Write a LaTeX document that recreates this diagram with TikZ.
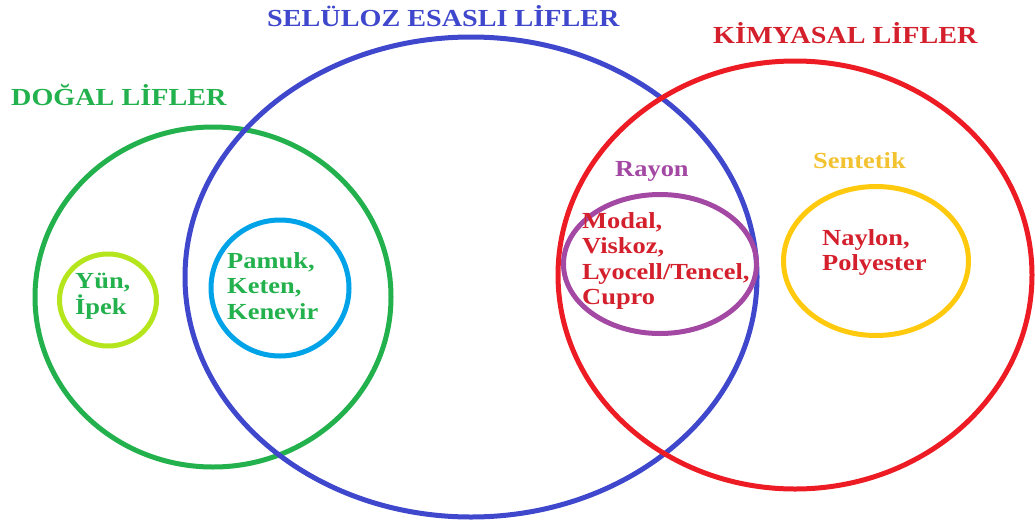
\documentclass[tikz,border=0pt]{standalone}
\usepackage{fontspec}
\setmainfont{Liberation Serif}[FakeStretch=1.15]
\usetikzlibrary{shapes.geometric}
\definecolor{cgreen}{HTML}{22B14C}
\definecolor{cblue}{HTML}{3F48CC}
\definecolor{cred}{HTML}{ED1C24}
\definecolor{ctred}{HTML}{D4202C}
\definecolor{clime}{HTML}{B5E61D}
\definecolor{ccyan}{HTML}{00A2E8}
\definecolor{cpurple}{HTML}{A349A4}
\definecolor{cyellow}{HTML}{FFC90E}
\definecolor{ctyellow}{HTML}{F2C230}
\tikzset{
  ring/.style={ellipse, draw, line width=5pt, inner sep=0pt},
  ttl/.style={font=\bfseries\fontsize{24.5}{28}\selectfont, inner sep=0pt, anchor=base west},
  lbl/.style={font=\bfseries\fontsize{23}{25.5}\selectfont, inner sep=0pt, align=left, anchor=north west},
}
\begin{document}
\begin{tikzpicture}[x=1pt,y=-1pt]
\useasboundingbox (0,0) rectangle (1035,522);
% big circles
\node[ring, cgreen, minimum width=356pt, minimum height=340pt] (dogal) at (213,297) {};
\node[ring, cblue, minimum width=572pt, minimum height=480pt] (seluloz) at (471,277) {};
\node[ring, cred, minimum width=474pt, minimum height=428pt] (kimya) at (795,275) {};
% small circles
\node[ring, clime, minimum width=97pt, minimum height=92pt] (yun) at (108,300) {};
\node[ring, ccyan, minimum width=138pt, minimum height=136pt] (pamuk) at (280,288) {};
\node[ring, cpurple, minimum width=193pt, minimum height=139pt] (rayon) at (660,264) {};
\node[ring, cyellow, minimum width=185pt, minimum height=149pt] (sentetik) at (876,261) {};
% titles
\node[ttl, cgreen] (tdogal) at (11,105) {DOĞAL LİFLER};
\node[ttl, cblue] (tseluloz) at (267,27) {SELÜLOZ ESASLI LİFLER};
\node[ttl, ctred] (tkimya) at (713,43) {KİMYASAL LİFLER};
\node[ttl, cpurple, font=\bfseries\fontsize{23}{25}\selectfont] (trayon) at (615,176) {Rayon};
\node[ttl, ctyellow, font=\bfseries\fontsize{23}{25}\selectfont] (tsentetik) at (813,168) {Sentetik};
% contents
\node[lbl, cgreen] (lyun) at (75,273) {Yün,\\İpek};
\node[lbl, cgreen] (lpamuk) at (227,252) {Pamuk,\\Keten,\\Kenevir};
\node[lbl, ctred] (lrayon) at (582,212) {Modal,\\Viskoz,\\Lyocell/Tencel,\\Cupro};
\node[lbl, ctred] (lsent) at (822,229) {Naylon,\\Polyester};
\end{tikzpicture}
\end{document}
